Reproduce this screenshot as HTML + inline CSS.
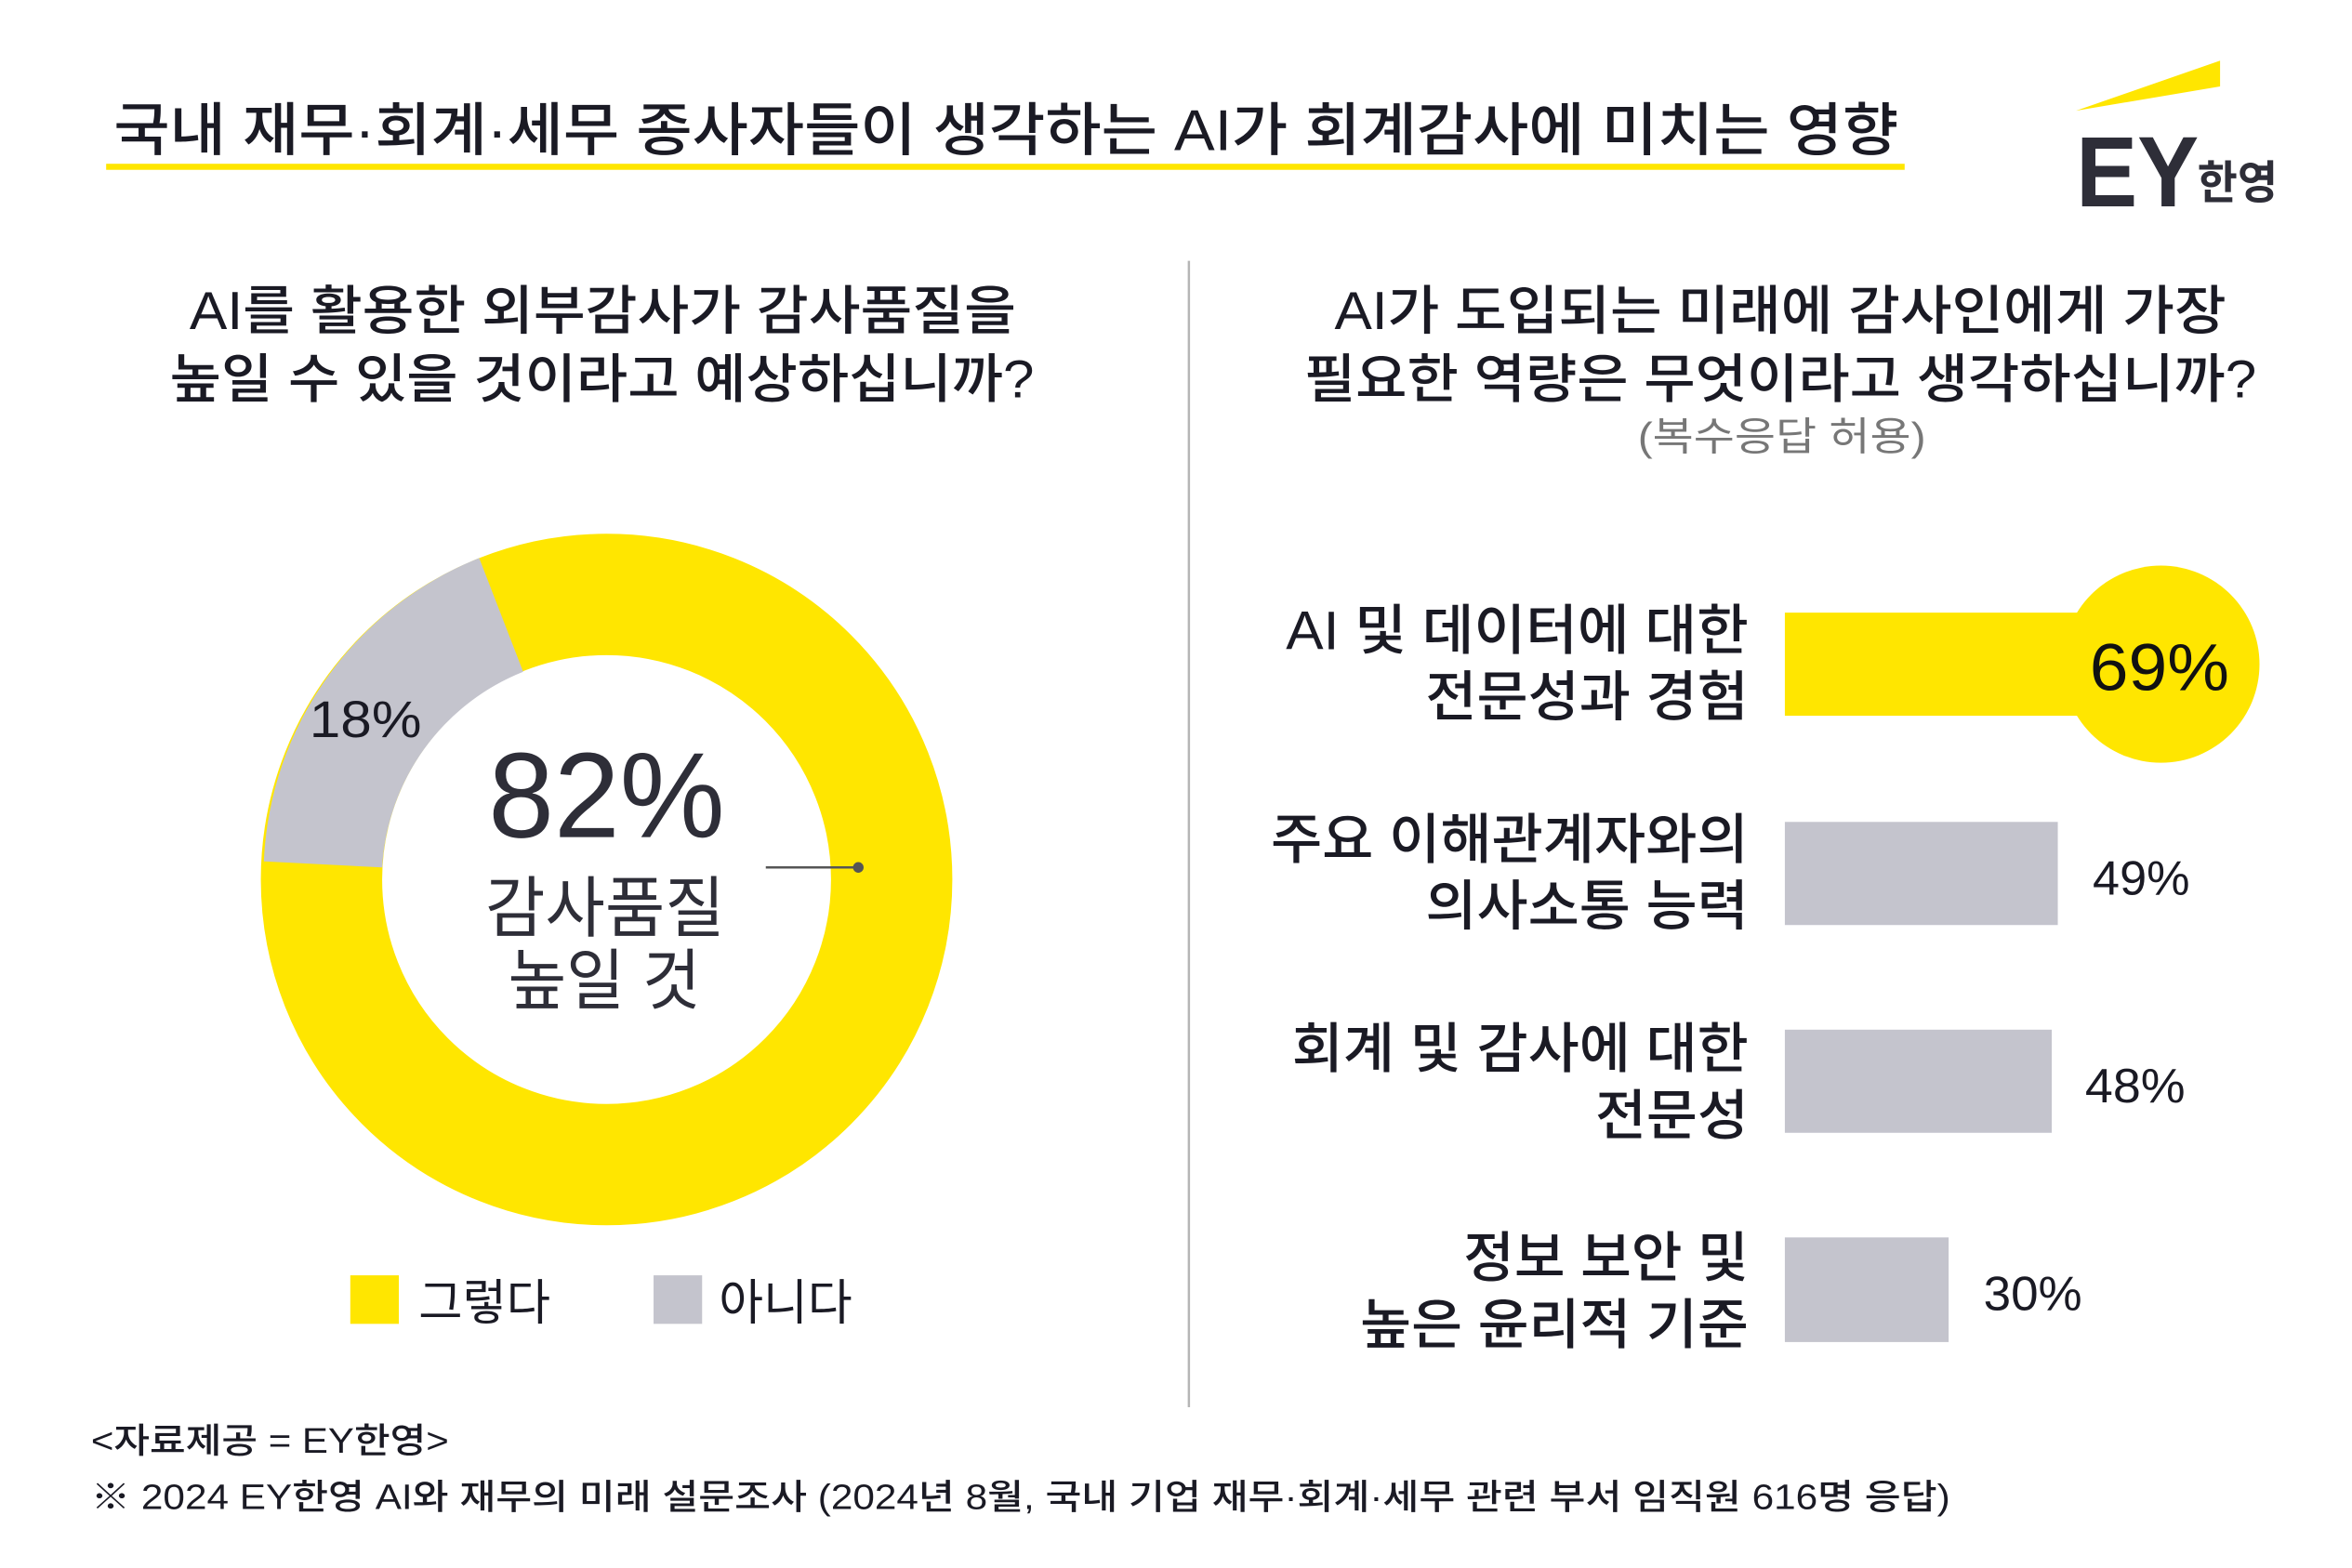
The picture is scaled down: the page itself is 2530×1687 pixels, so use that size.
<!DOCTYPE html>
<html><head><meta charset="utf-8"><style>
html,body{margin:0;padding:0;background:#fff;}
svg{display:block;}
text{font-family:"Liberation Sans","Noto Sans CJK KR",sans-serif;fill:#1a1a24;}
</style></head><body>
<svg width="2530" height="1687" viewBox="0 0 1551 1034" preserveAspectRatio="none" xmlns="http://www.w3.org/2000/svg">
<rect width="1551" height="1034" fill="#fff"/>
<text x="75" y="99" font-size="38" font-weight="500" textLength="1177" lengthAdjust="spacingAndGlyphs">국내 재무·회계·세무 종사자들이 생각하는 AI가 회계감사에 미치는 영향</text>
<rect x="70" y="108" width="1186" height="4" fill="#FFE600"/>
<polygon points="1369,73 1464,40 1464,57" fill="#FFE600"/>
<text x="1369" y="136" font-size="66" font-weight="bold" style="fill:#2E2E38" textLength="81" lengthAdjust="spacingAndGlyphs">EY</text>
<text x="1449" y="131" font-size="30" font-weight="bold" style="fill:#2E2E38" textLength="53" lengthAdjust="spacingAndGlyphs">한영</text>
<line x1="784" y1="172" x2="784" y2="928" stroke="#b5b5b5" stroke-width="1.5"/>
<text x="125" y="217" font-size="35" font-weight="500" textLength="545" lengthAdjust="spacingAndGlyphs">AI를 활용한 외부감사가 감사품질을</text>
<text x="112" y="262" font-size="35" font-weight="500" textLength="570" lengthAdjust="spacingAndGlyphs">높일 수 있을 것이라고 예상하십니까?</text>
<circle cx="400" cy="580" r="188" fill="none" stroke="#FFE600" stroke-width="80"/>
<path d="M 174 568 A 226 226 0 0 1 316 368 L 345 443 A 148 148 0 0 0 252 572 Z" fill="#C4C4CD"/>
<text x="204" y="486" font-size="34" font-weight="500" textLength="74" lengthAdjust="spacingAndGlyphs">18%</text>
<text x="322" y="552" font-size="80" font-weight="500" style="fill:#2E2E38" textLength="156" lengthAdjust="spacingAndGlyphs">82%</text>
<text x="320" y="614" font-size="44" style="fill:#2E2E38" textLength="158" lengthAdjust="spacingAndGlyphs">감사품질</text>
<text x="335" y="662" font-size="44" style="fill:#2E2E38" textLength="127" lengthAdjust="spacingAndGlyphs">높일 것</text>
<line x1="505" y1="572" x2="566" y2="572" stroke="#555" stroke-width="1.5"/>
<circle cx="566" cy="572" r="3.5" fill="#555"/>
<rect x="231" y="841" width="32" height="32" fill="#FFE600"/>
<text x="276" y="870" font-size="32" textLength="87" lengthAdjust="spacingAndGlyphs">그렇다</text>
<rect x="431" y="841" width="32" height="32" fill="#C4C4CD"/>
<text x="474" y="870" font-size="32" textLength="88" lengthAdjust="spacingAndGlyphs">아니다</text>
<text x="880" y="217" font-size="35" font-weight="500" textLength="588" lengthAdjust="spacingAndGlyphs">AI가 도입되는 미래에 감사인에게 가장</text>
<text x="860" y="262" font-size="35" font-weight="500" textLength="628" lengthAdjust="spacingAndGlyphs">필요한 역량은 무엇이라고 생각하십니까?</text>
<text x="1080" y="297" font-size="26" style="fill:#777" textLength="190" lengthAdjust="spacingAndGlyphs">(복수응답 허용)</text>
<rect x="1177" y="404" width="200" height="68" fill="#FFE600"/>
<circle cx="1425" cy="438" r="65" fill="#FFE600"/>
<text x="1378" y="455" font-size="44" font-weight="500" style="fill:#111" textLength="92" lengthAdjust="spacingAndGlyphs">69%</text>
<text x="848" y="428" font-size="36" font-weight="500" textLength="305" lengthAdjust="spacingAndGlyphs">AI 및 데이터에 대한</text>
<text x="940" y="472" font-size="36" font-weight="500" textLength="213" lengthAdjust="spacingAndGlyphs">전문성과 경험</text>
<rect x="1177" y="542" width="180" height="68" fill="#C4C4CD"/>
<text x="1380" y="590" font-size="32" font-weight="500" textLength="64" lengthAdjust="spacingAndGlyphs">49%</text>
<text x="838" y="566" font-size="36" font-weight="500" textLength="315" lengthAdjust="spacingAndGlyphs">주요 이해관계자와의</text>
<text x="940" y="610" font-size="36" font-weight="500" textLength="213" lengthAdjust="spacingAndGlyphs">의사소통 능력</text>
<rect x="1177" y="679" width="176" height="68" fill="#C4C4CD"/>
<text x="1375" y="727" font-size="32" font-weight="500" textLength="66" lengthAdjust="spacingAndGlyphs">48%</text>
<text x="852" y="704" font-size="36" font-weight="500" textLength="301" lengthAdjust="spacingAndGlyphs">회계 및 감사에 대한</text>
<text x="1052" y="748" font-size="36" font-weight="500" textLength="101" lengthAdjust="spacingAndGlyphs">전문성</text>
<rect x="1177" y="816" width="108" height="69" fill="#C4C4CD"/>
<text x="1308" y="864" font-size="32" font-weight="500" textLength="65" lengthAdjust="spacingAndGlyphs">30%</text>
<text x="965" y="842" font-size="36" font-weight="500" textLength="188" lengthAdjust="spacingAndGlyphs">정보 보안 및</text>
<text x="897" y="886" font-size="36" font-weight="500" textLength="256" lengthAdjust="spacingAndGlyphs">높은 윤리적 기준</text>
<text x="60" y="958" font-size="23" font-weight="500" textLength="236" lengthAdjust="spacingAndGlyphs">&lt;자료제공 = EY한영&gt;</text>
<text x="60" y="995" font-size="23" font-weight="500" textLength="1226" lengthAdjust="spacingAndGlyphs">※ 2024 EY한영 AI와 재무의 미래 설문조사 (2024년 8월, 국내 기업 재무·회계·세무 관련 부서 임직원 616명 응답)</text>
</svg>
</body></html>
